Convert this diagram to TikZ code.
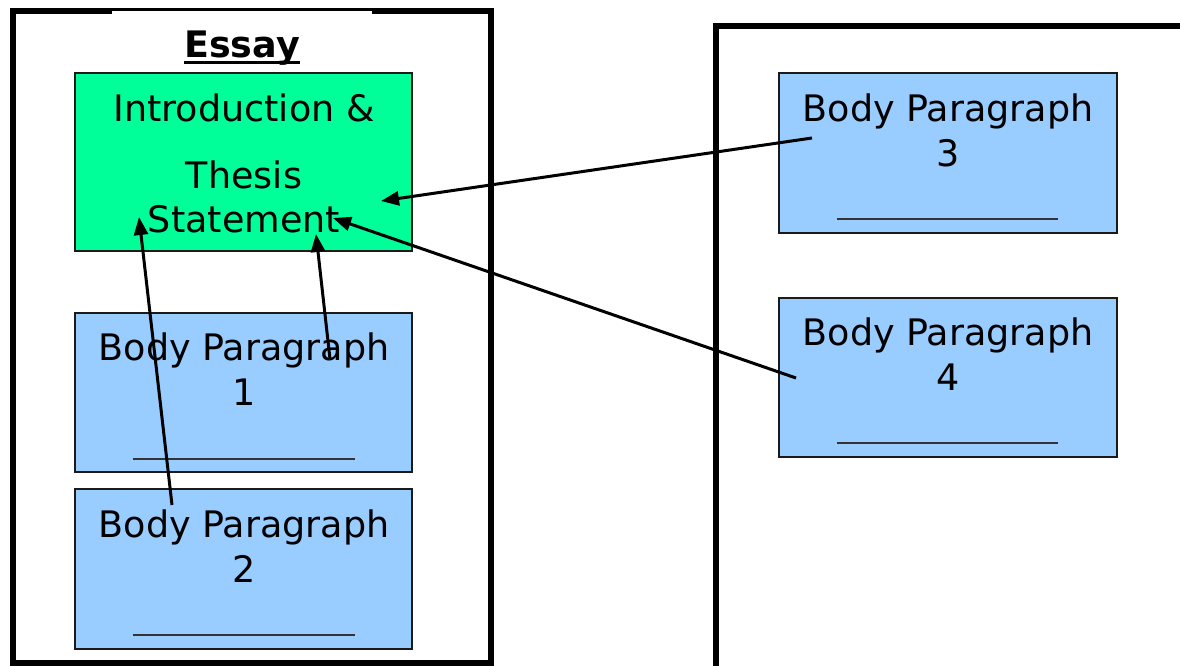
\documentclass[tikz,border=0pt]{standalone}
\usepackage{fontspec}
\setmainfont{DejaVu Sans}
\usetikzlibrary{arrows.meta}
\definecolor{introgreen}{HTML}{00FF99}
\definecolor{bodyblue}{HTML}{99CCFF}
\definecolor{boxedge}{HTML}{1A1A1A}
\definecolor{blankline}{HTML}{333333}
\tikzset{
  frameline/.style={line width=6pt, draw=black},
  introbox/.style={draw=boxedge, line width=1.6pt, fill=introgreen, rectangle, inner sep=0pt},
  bodybox/.style={draw=boxedge, line width=1.6pt, fill=bodyblue, rectangle, inner sep=0pt},
  txt/.style={anchor=base, inner sep=0pt, font=\fontsize{36.5}{44}\selectfont},
  blank/.style={draw=blankline, line width=1.8pt},
  link/.style={line width=3pt, -{Triangle[length=18pt,width=14pt]}}
}
\begin{document}
\begin{tikzpicture}[x=1pt,y=-1pt]
\useasboundingbox (0,0) rectangle (1180,665);
\fill[white] (0,0) rectangle (1180,665);
% frames
\draw[frameline] (12.5,10.5) rectangle (491,662.5);
\fill[white] (112,10.5) rectangle (372,40);
\draw[frameline] (1190,26) -- (716,26) -- (716,675);
% title
\node[txt, font=\fontsize{36.5}{44}\selectfont\bfseries] (essay) at (242,57) {Essay};
\draw[line width=3pt] ([yshift=-5pt]essay.base west) -- ([yshift=-5pt]essay.base east);
% boxes
\node[introbox, minimum width=337pt, minimum height=178pt] (intro) at (243.5,162) {};
\node[bodybox, minimum width=337pt, minimum height=159pt] (bp1) at (243.5,392.5) {};
\node[bodybox, minimum width=337pt, minimum height=160pt] (bp2) at (243.5,569) {};
\node[bodybox, minimum width=338pt, minimum height=160pt] (bp3) at (948,153) {};
\node[bodybox, minimum width=338pt, minimum height=159pt] (bp4) at (948,377.5) {};
% texts
\node[txt] (i1) at (244,121) {Introduction \&};
\node[txt] (i2) at (244,188) {Thesis};
\node[txt] (i3) at (244,232) {Statement};
\node[txt] (t1a) at (244,360) {Body Paragraph};
\node[txt] (t1b) at (244,405) {1};
\node[txt] (t2a) at (244,537) {Body Paragraph};
\node[txt] (t2b) at (244,582) {2};
\node[txt] (t3a) at (948,121) {Body Paragraph};
\node[txt] (t3b) at (948,166) {3};
\node[txt] (t4a) at (948,345) {Body Paragraph};
\node[txt] (t4b) at (948,390) {4};
% blanks
\draw[blank] (133,459) -- (355,459);
\draw[blank] (133,635) -- (355,635);
\draw[blank] (837,219) -- (1058,219);
\draw[blank] (837,443) -- (1058,443);
% connector ends
\coordinate (s3) at (812,138);
\coordinate (e3) at (381,201);
\coordinate (s4) at (796,378);
\coordinate (e4) at (333,218);
\coordinate (s1) at (330,359);
\coordinate (e1) at (316,234);
\coordinate (s2) at (172,505);
\coordinate (e2) at (139,217);
\draw[link] (s3) -- (e3);
\draw[link] (s4) -- (e4);
\draw[link] (s1) -- (e1);
\draw[link] (s2) -- (e2);
\end{tikzpicture}
\end{document}
